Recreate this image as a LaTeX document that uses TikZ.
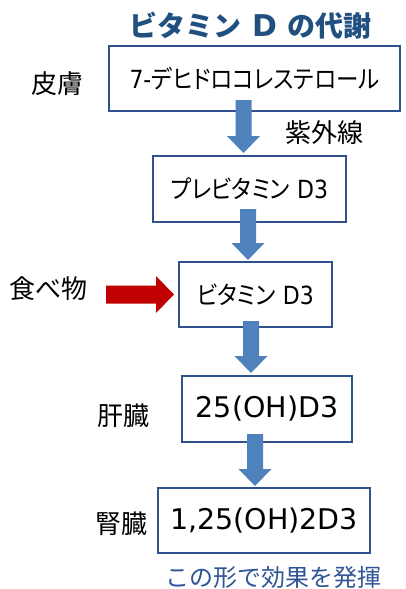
\documentclass[tikz,border=0pt]{standalone}
\usepackage{fontspec}
\setmainfont{DejaVu Sans}
\newfontfamily\jp{Noto Sans CJK JP}
\newfontfamily\jpk{Noto Sans CJK JP}[RawFeature=+palt, FakeStretch=0.9]
\newfontfamily\latn{DejaVu Sans}[FakeStretch=0.88]
\usetikzlibrary{calc}
\definecolor{boxline}{RGB}{47,82,143}
\definecolor{arrowblue}{RGB}{79,129,189}
\definecolor{titleblue}{RGB}{33,80,128}
\definecolor{noteblue}{RGB}{47,85,151}
\definecolor{foodred}{RGB}{192,0,0}
\newcommand\fsz[1]{\fontsize{#1}{#1}\selectfont}
% vertical block arrow: start point, tip point
\newcommand\downblock[2]{%
  \fill[arrowblue] let \p1=(#1), \p2=(#2) in
    (\x1-8pt,\y1) -- (\x1+8pt,\y1) -- (\x1+8pt,\y2+17pt) -- (\x1+16.5pt,\y2+17pt)
    -- (\x1,\y2) -- (\x1-16.5pt,\y2+17pt) -- (\x1-8pt,\y2+17pt) -- cycle;}
% horizontal block arrow: start point, tip point
\newcommand\rightblock[2]{%
  \fill[foodred] let \p1=(#1), \p2=(#2) in
    (\x1,\y1+9pt) -- (\x2-18pt,\y1+9pt) -- (\x2-18pt,\y1+18.5pt) -- (\x2,\y1)
    -- (\x2-18pt,\y1-18.5pt) -- (\x2-18pt,\y1-9pt) -- (\x1,\y1-9pt) -- cycle;}
\begin{document}
\begin{tikzpicture}[x=1pt,y=-1pt,
  stagebox/.style={draw=boxline, line width=2pt, fill=white, inner sep=0pt, anchor=center},
  organ/.style={inner sep=0pt, font=\jp\fsz{26}}]
\useasboundingbox (0,0) rectangle (405,589);
\fill[white] (0,0) rectangle (405,589);

% title
\node[inner sep=0pt, text=titleblue] (title) at (250.5,26)
  {{\jp\bfseries\fsz{28}ビタミン}{\bfseries\fsz{30} D }{\jp\bfseries\fsz{28}の代謝}};

% stage boxes
\node[stagebox, minimum width=291pt, minimum height=65pt] (b1) at (254.5,78.5)
  {{\latn\fsz{25}7-}{\jpk\fsz{25}デヒドロコレステロール}};
\node[stagebox, minimum width=193pt, minimum height=66pt] (b2) at (249.5,189)
  {{\jpk\fsz{25}プレビタミン}{\latn\fsz{25} D3}};
\node[stagebox, minimum width=153pt, minimum height=65pt] (b3) at (255.5,294.5)
  {{\jpk\fsz{25}ビタミン}{\latn\fsz{25} D3}};
\node[stagebox, minimum width=170pt, minimum height=66pt] (b4) at (267,409)
  {\fsz{28.5}25(OH)D3};
\node[stagebox, minimum width=212pt, minimum height=65pt] (b5) at (264,520.5)
  {\fsz{28.5}1,25(OH)2D3};

% organ / side labels
\node[organ] (skin) at (57.5,83.5) {皮膚};
\node[organ] (uv) at (324,132.5) {紫外線};
\node[organ] (food) at (48.5,288.5) {食べ物};
\node[organ] (liver) at (123.5,416) {肝臓};
\node[organ] (kidney) at (121,523.5) {腎臓};
\node[inner sep=0pt, text=noteblue, font=\jp\fsz{24}] (note) at (273.5,577.5) {この形で効果を発揮};

% block arrows between stages
\downblock{[xshift=-11pt,yshift=12pt]b1.south}{[xshift=-6pt,yshift=2pt]b2.north}
\downblock{[xshift=-1.5pt,yshift=14pt]b2.south}{[xshift=-7.5pt,yshift=1pt]b3.north}
\downblock{[xshift=-4.5pt,yshift=7pt]b3.south}{[xshift=-16pt,yshift=2pt]b4.north}
\downblock{[xshift=-12pt,yshift=9pt]b4.south}{[xshift=-9pt,yshift=1pt]b5.north}

% food arrow
\coordinate (foodstart) at (106,294.5);
\rightblock{foodstart}{[xshift=-4pt]b3.west}
\end{tikzpicture}
\end{document}
